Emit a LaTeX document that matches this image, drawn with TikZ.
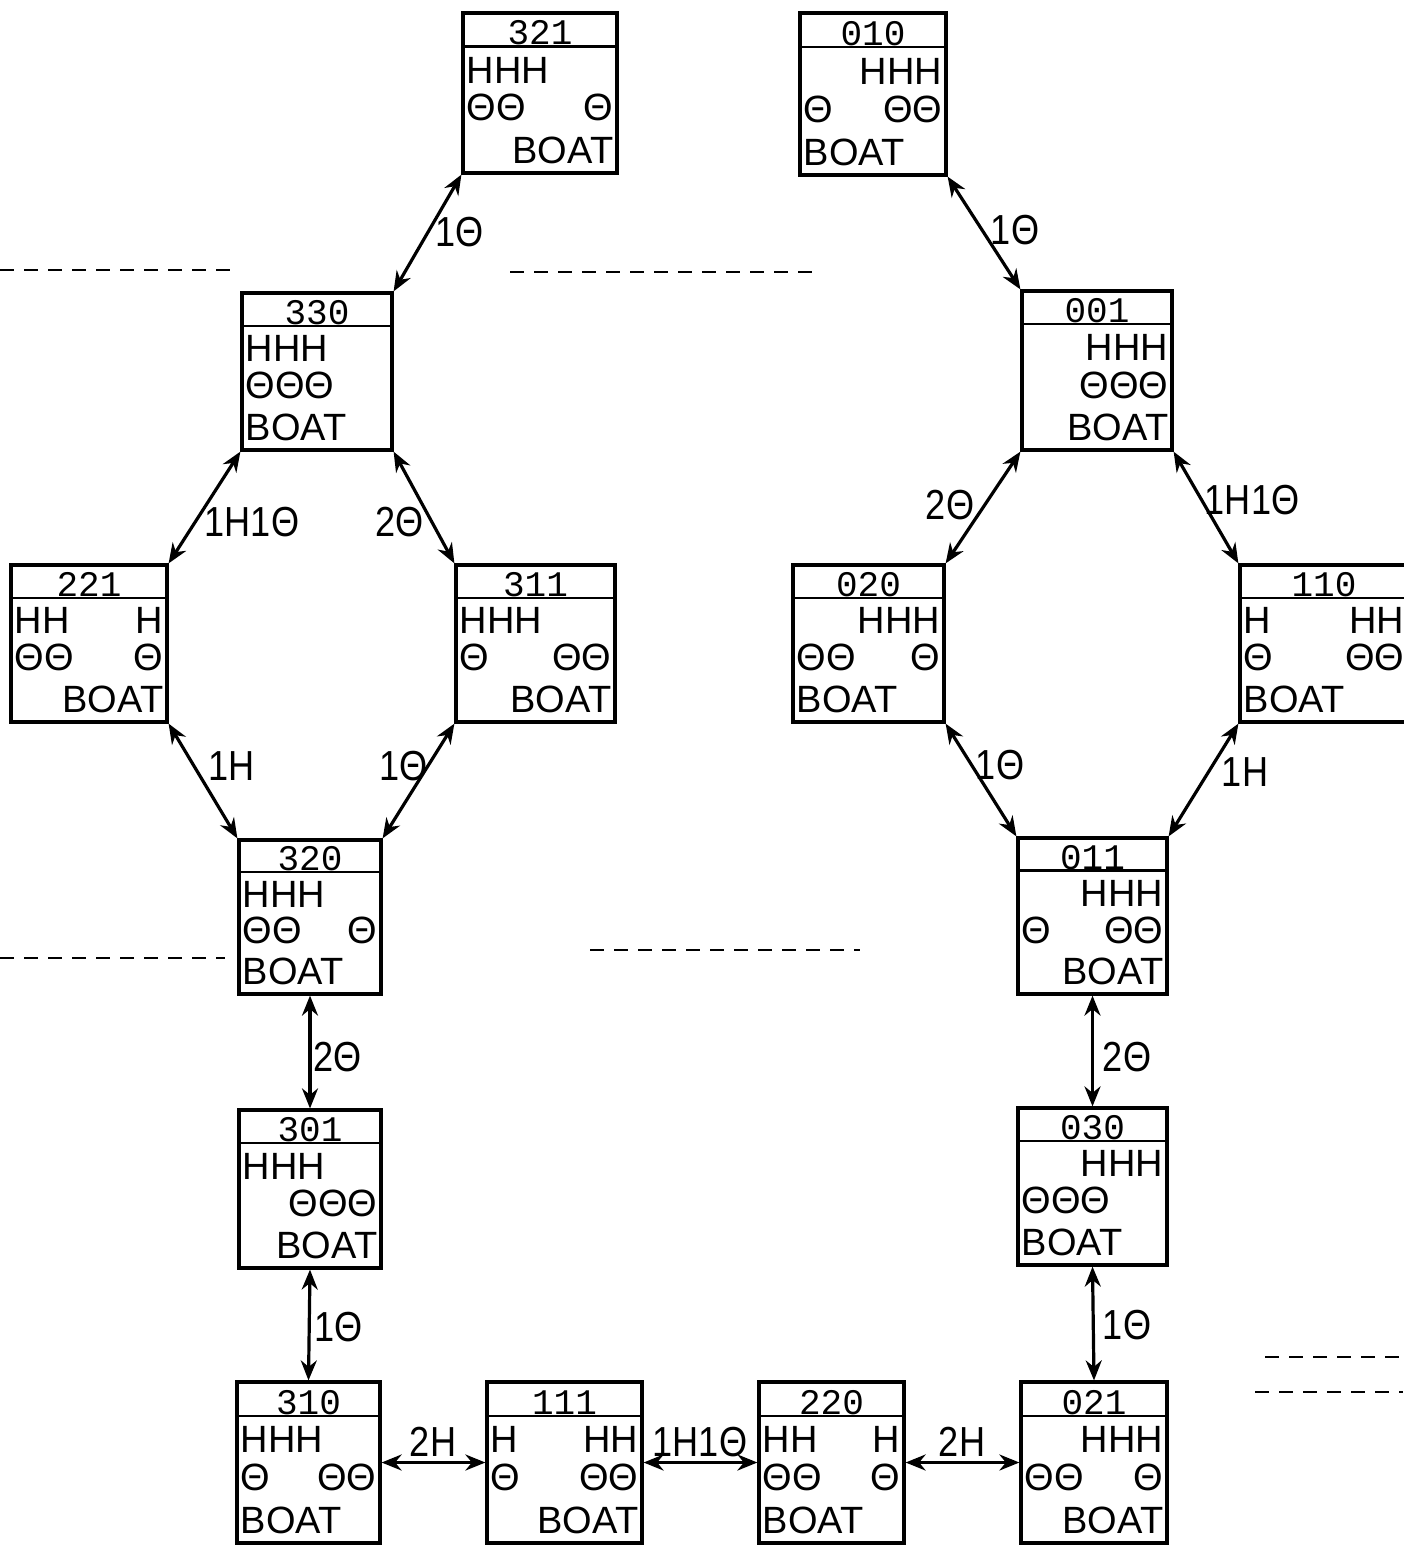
\documentclass[tikz,border=0pt]{standalone}
\usepackage{fontspec}
\setmainfont{Liberation Sans}
\newfontfamily\numfont{Liberation Mono}
\newfontfamily\lblfont[FakeStretch=0.86]{Liberation Sans}
\usetikzlibrary{arrows.meta,calc,fit}
\tikzset{
  stbox/.style={draw, line width=1.6pt, inner sep=0pt, rectangle},
  hdrline/.style={line width=1.2pt},
  numtxt/.style={font=\numfont\fontsize{18}{18}\selectfont, inner sep=0pt, anchor=base},
  rowtxt/.style={font=\fontsize{19}{19}\selectfont, inner sep=0pt},
  lbl/.style={font=\lblfont\fontsize{21}{21}\selectfont, inner sep=0pt},
  link/.style={line width=1.6pt, {Stealth[length=10pt,width=8pt]}-{Stealth[length=10pt,width=8pt]}},
  noise/.style={line width=0.8pt, dash pattern=on 7pt off 5pt},
}
\newcommand\stbox[6]{%
  \node[stbox, fit={(#2,#3) (#4,#5)}] (#1) {};
  \draw[hdrline] ($(#1.north west)!0.215!(#1.south west)$) -- ($(#1.north east)!0.215!(#1.south east)$);
  \node[numtxt] (#1-num) at ($(#1.north)!0.205!(#1.south)$) {#6};
}
\newcommand\strow[5]{%
  \node[rowtxt, anchor=base west] (#1-#2l) at ($(#1.north west)!#3!(#1.south west)+(5,0)$) {#4};
  \node[rowtxt, anchor=base east] (#1-#2r) at ($(#1.north east)!#3!(#1.south east)+(-5,0)$) {#5};
}
\newcommand\stfill[7]{% box, H left, H right, T left, T right, boat left, boat right
  \strow{#1}{a}{0.44}{#2}{#3}
  \strow{#1}{b}{0.67}{#4}{#5}
  \strow{#1}{c}{0.93}{#6}{#7}
}
\begin{document}
\begin{tikzpicture}[x=0.5pt,y=-0.5pt]
\useasboundingbox (0,0) rectangle (1403,1546);
\fill[white] (0,0) rectangle (1403,1546);

% scan noise lines
\draw[noise] (0,270) -- (235,270);
\draw[noise] (510,272) -- (820,272);
\draw[noise] (0,958) -- (225,958);
\draw[noise] (590,950) -- (860,950);
\draw[noise] (1265,1357) -- (1403,1357);
\draw[noise] (1255,1392) -- (1403,1392);

% boxes
\stbox{n321}{463}{13}{617}{173}{321}
\stfill{n321}{HHH}{}{ΘΘ}{Θ}{}{BOAT}
\stbox{n010}{800}{13}{946}{175}{010}
\stfill{n010}{}{HHH}{Θ}{ΘΘ}{BOAT}{}
\stbox{n330}{242}{293}{392}{450}{330}
\stfill{n330}{HHH}{}{ΘΘΘ}{}{BOAT}{}
\stbox{n001}{1022}{291}{1172}{450}{001}
\stfill{n001}{}{HHH}{}{ΘΘΘ}{}{BOAT}
\stbox{n221}{11}{565}{167}{722}{221}
\stfill{n221}{HH}{H}{ΘΘ}{Θ}{}{BOAT}
\stbox{n311}{456}{565}{615}{722}{311}
\stfill{n311}{HHH}{}{Θ}{ΘΘ}{}{BOAT}
\stbox{n020}{793}{565}{944}{722}{020}
\stfill{n020}{}{HHH}{ΘΘ}{Θ}{BOAT}{}
\stbox{n110}{1240}{565}{1408}{722}{110}
\stfill{n110}{H}{HH}{Θ}{ΘΘ}{BOAT}{}
\stbox{n320}{239}{840}{381}{994}{320}
\stfill{n320}{HHH}{}{ΘΘ}{Θ}{BOAT}{}
\stbox{n011}{1018}{838}{1167}{994}{011}
\stfill{n011}{}{HHH}{Θ}{ΘΘ}{}{BOAT}
\stbox{n301}{239}{1110}{381}{1268}{301}
\stfill{n301}{HHH}{}{}{ΘΘΘ}{}{BOAT}
\stbox{n030}{1018}{1108}{1167}{1265}{030}
\stfill{n030}{}{HHH}{ΘΘΘ}{}{BOAT}{}
\stbox{n310}{237}{1382}{380}{1543}{310}
\stfill{n310}{HHH}{}{Θ}{ΘΘ}{BOAT}{}
\stbox{n111}{487}{1382}{642}{1543}{111}
\stfill{n111}{H}{HH}{Θ}{ΘΘ}{}{BOAT}
\stbox{n220}{759}{1382}{904}{1543}{220}
\stfill{n220}{HH}{H}{ΘΘ}{Θ}{BOAT}{}
\stbox{n021}{1021}{1382}{1167}{1543}{021}
\stfill{n021}{}{HHH}{ΘΘ}{Θ}{}{BOAT}

% connectors
\draw[link] (n321.south west) -- (n330.north east) node[lbl] (e1) at (460,232) {1Θ};
\draw[link] (n010.south east) -- (n001.north west) node[lbl] (e2) at (1015,230) {1Θ};
\draw[link] (n330.south west) -- (n221.north east) node[lbl] (e3) at (252,522) {1H1Θ};
\draw[link] (n330.south east) -- (n311.north west) node[lbl] (e4) at (400,522) {2Θ};
\draw[link] (n001.south west) -- (n020.north east) node[lbl] (e5) at (950,505) {2Θ};
\draw[link] (n001.south east) -- (n110.north west) node[lbl] (e6) at (1252,500) {1H1Θ};
\draw[link] (n221.south east) -- (n320.north west) node[lbl] (e7) at (232,766) {1H};
\draw[link] (n311.south west) -- (n320.north east) node[lbl] (e8) at (404,766) {1Θ};
\draw[link] (n020.south east) -- (n011.north west) node[lbl] (e9) at (1000,765) {1Θ};
\draw[link] (n110.south west) -- (n011.north east) node[lbl] (e10) at (1245,772) {1H};
\draw[link] (n320.south) -- (n301.north) node[lbl] (e11) at (338,1057) {2Θ};
\draw[link] (n011.south) -- (n030.north) node[lbl] (e12) at (1127,1057) {2Θ};
\draw[link] (n301.south) -- (n310.north) node[lbl] (e13) at (339,1327) {1Θ};
\draw[link] (n030.south) -- (n021.north) node[lbl] (e14) at (1127,1325) {1Θ};
\draw[link] (n310.east) -- (n111.west) node[lbl] (e15) at (433,1442) {2H};
\draw[link] (n111.east) -- (n220.west) node[lbl] (e16) at (700,1442) {1H1Θ};
\draw[link] (n220.east) -- (n021.west) node[lbl] (e17) at (962,1442) {2H};
\end{tikzpicture}
\end{document}
